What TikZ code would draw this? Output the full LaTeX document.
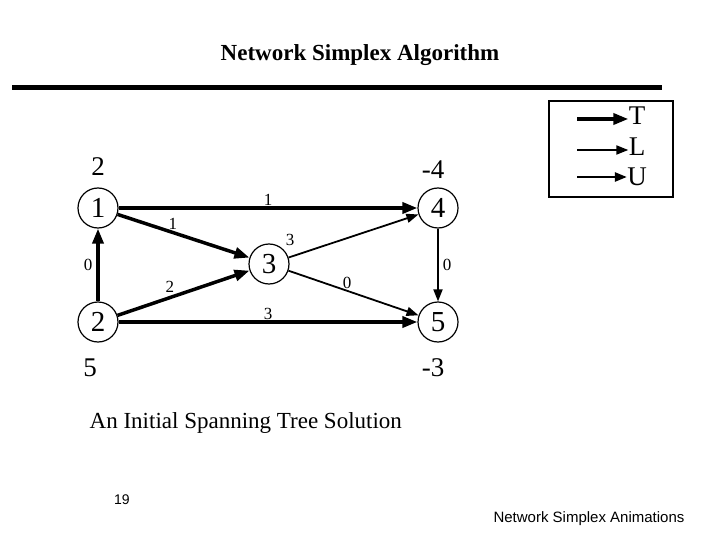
\documentclass[tikz,border=0pt]{standalone}
\usepackage{fontspec}
\setmainfont{Liberation Serif}
\newfontfamily\sansf{Liberation Sans}
\usetikzlibrary{positioning,arrows.meta}
\begin{document}
\begin{tikzpicture}[x=1pt,y=-1pt,thick,
  node/.style={circle,draw,line width=1.2pt,minimum size=40pt,inner sep=0pt,font=\fontsize{29}{29}\selectfont},
  supply/.style={font=\fontsize{27}{27}\selectfont},
  cost/.style={font=\fontsize{17}{17}\selectfont,inner sep=1pt},
  tree/.style={-{Triangle[length=15pt,width=11pt]},line width=3.5pt},
  lower/.style={-{Triangle[length=12pt,width=9pt]},line width=1.8pt}]
  \useasboundingbox (0,0) rectangle (720,540);

  % Titel
  \node[font=\bfseries\fontsize{23}{23}\selectfont] (title) at (360,55) {Network Simplex Algorithm};
  \draw[line width=5pt] (12,88) -- (662,88);

  % Knoten
  \node[node] (n1) at (98,208) {1};
  \node[node] (n2) at (98,322) {2};
  \node[node] (n3) at (269,264) {3};
  \node[node] (n4) at (438,208) {4};
  \node[node] (n5) at (438,322) {5};

  \node[supply] (b1) at (98,167) {2};
  \node[supply] (b2) at (90,368) {5};
  \node[supply] (b4) at (433,170) {-4};
  \node[supply] (b5) at (433,368) {-3};

  % Kanten
  \path[tree]
    (n1) edge node[cost,above] {1} (n4)
         edge node[cost,above,pos=0.42] {1} (n3)
    (n2) edge node[cost,left=3pt] {0} (n1)
         edge node[cost,above left,pos=0.45] {2} (n3)
         edge node[cost,above] {3} (n5);
  \path[lower]
    (n3) edge (n4)
         edge node[cost,above,pos=0.45] {0} (n5)
    (n4) edge node[cost,right=3pt] {0} (n5);
  \node[cost] (c34) at (290,240) {3};

  % Legende
  \node[draw,line width=2.5pt,minimum width=124pt,minimum height=96pt] (leg) at (611,149) {};
  \node[font=\fontsize{27}{27}\selectfont,inner sep=0pt] (lT) at (637,116) {T};
  \node[font=\fontsize{27}{27}\selectfont,inner sep=0pt] (lL) at (637,147) {L};
  \node[font=\fontsize{27}{27}\selectfont,inner sep=0pt] (lU) at (637,177) {U};
  \coordinate (sT) at (577,119);
  \coordinate (sL) at (577,150);
  \coordinate (sU) at (577,177);
  \draw[tree] (sT) -- (sT -| lT.west);
  \draw[-{Triangle[length=12pt,width=9pt]},line width=1.8pt] (sL) -- (sL -| lL.west);
  \draw[-{Triangle[length=12pt,width=9pt]},line width=2.4pt] (sU) -- (sU -| lU.west);

  % Fusszeile
  \node[font=\fontsize{23}{23}\selectfont,anchor=west] (cap) at (86,423) {An Initial Spanning Tree Solution};
  \node[font=\sansf\fontsize{14}{14}\selectfont] (pg) at (122,500) {19};
  \node[font=\sansf\fontsize{15}{15}\selectfont] (ft) at (589,519) {Network Simplex Animations};
\end{tikzpicture}
\end{document}
